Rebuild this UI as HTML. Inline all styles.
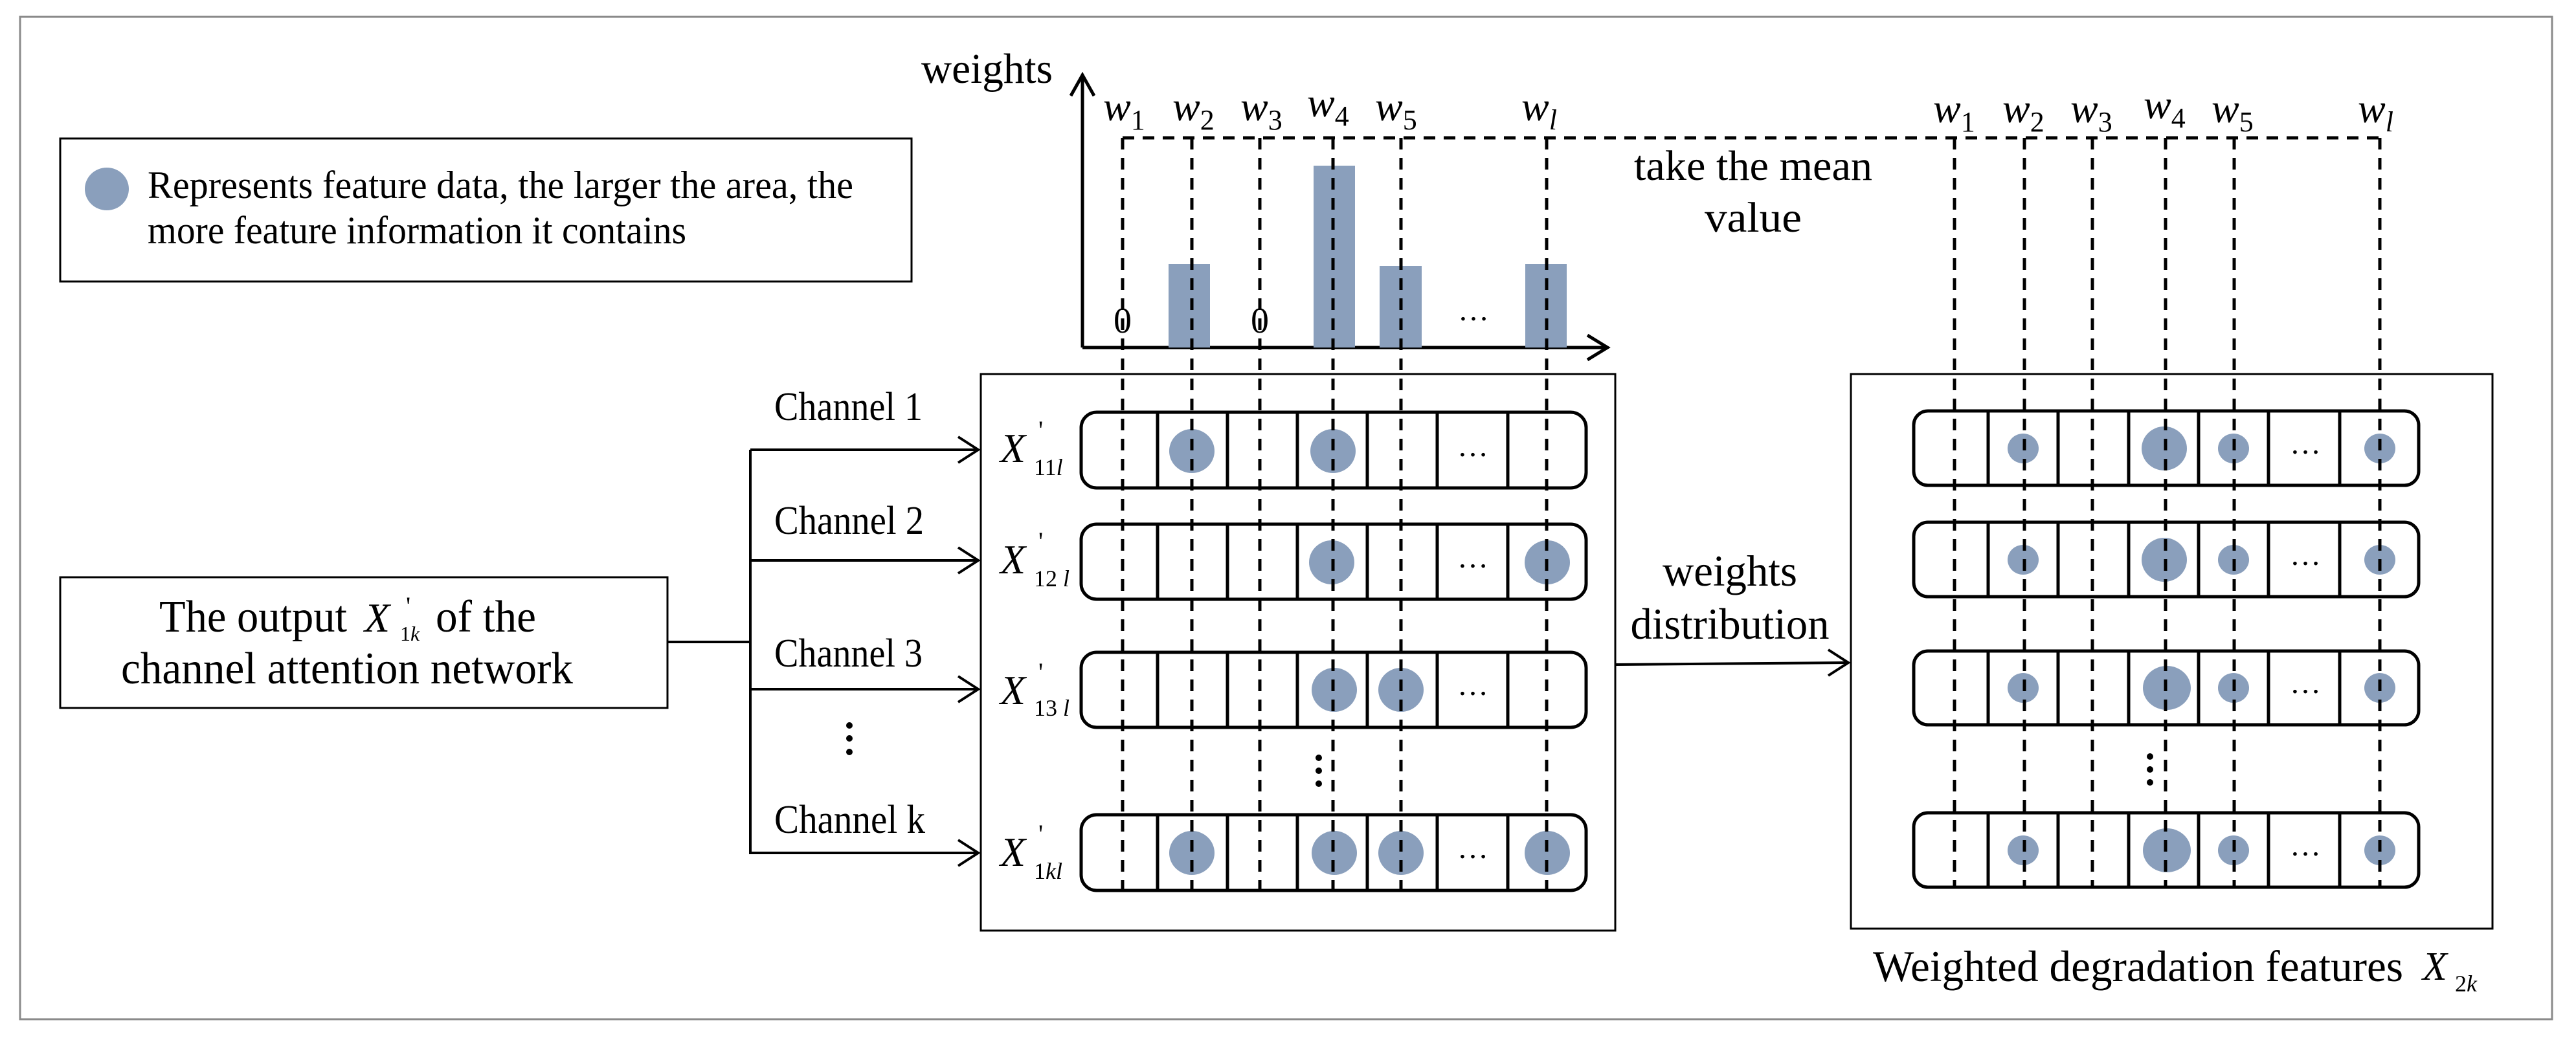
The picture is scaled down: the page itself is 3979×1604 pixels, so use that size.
<!DOCTYPE html>
<html><head><meta charset="utf-8"><style>
html,body{margin:0;padding:0;background:#fff}
svg{display:block}
svg text{font-family:"Liberation Serif","Times New Roman",serif;fill:#000}
.it{font-style:italic}
</style></head><body>
<svg width="3979" height="1604" viewBox="0 0 3979 1604" xmlns="http://www.w3.org/2000/svg" font-family="Liberation Serif, serif">
<rect x="31" y="26" width="3911" height="1549" fill="none" stroke="#8a8a8a" stroke-width="3"/>

<!-- legend -->
<rect x="93" y="214" width="1315" height="221" fill="none" stroke="#000" stroke-width="3"/>
<ellipse cx="165" cy="292" rx="34" ry="33" fill="#8a9fbc"/>
<text x="228" y="306" font-size="60" textLength="1090" lengthAdjust="spacingAndGlyphs">Represents feature data, the larger the area, the</text>
<text x="228" y="376" font-size="60" textLength="832" lengthAdjust="spacingAndGlyphs">more feature information it contains</text>

<!-- output box -->
<rect x="93" y="892" width="938" height="202" fill="none" stroke="#000" stroke-width="3"/>
<text x="246" y="976" font-size="70" textLength="290" lengthAdjust="spacingAndGlyphs">The output</text>
<text x="563" y="976" font-size="64" class="it">X</text>
<text x="627" y="950" font-size="40">'</text>
<text x="618" y="990" font-size="32">1<tspan class="it">k</tspan></text>
<text x="673" y="976" font-size="70" textLength="155" lengthAdjust="spacingAndGlyphs">of the</text>
<text x="187" y="1056" font-size="70" textLength="698" lengthAdjust="spacingAndGlyphs">channel attention network</text>
<line x1="1031" y1="992" x2="1159" y2="992" stroke="#000" stroke-width="4"/>

<!-- channel tree -->
<line x1="1159" y1="695" x2="1159" y2="1320" stroke="#000" stroke-width="4"/>
<g stroke="#000" stroke-width="4" fill="none">
<line x1="1159" y1="695" x2="1510" y2="695"/><polyline points="1480,675 1511,695 1480,715"/>
<line x1="1159" y1="866" x2="1510" y2="866"/><polyline points="1480,846 1511,866 1480,886"/>
<line x1="1159" y1="1065" x2="1510" y2="1065"/><polyline points="1480,1045 1511,1065 1480,1085"/>
<line x1="1159" y1="1318" x2="1510" y2="1318"/><polyline points="1480,1298 1511,1318 1480,1338"/>
</g>
<text x="1196" y="649" font-size="62" textLength="229" lengthAdjust="spacingAndGlyphs">Channel 1</text>
<text x="1196" y="825" font-size="62" textLength="231" lengthAdjust="spacingAndGlyphs">Channel 2</text>
<text x="1196" y="1030" font-size="62" textLength="229" lengthAdjust="spacingAndGlyphs">Channel 3</text>
<text x="1196" y="1287" font-size="62" textLength="233" lengthAdjust="spacingAndGlyphs">Channel k</text>
<g fill="#000"><circle cx="1312" cy="1121" r="5"/><circle cx="1312" cy="1141" r="5"/><circle cx="1312" cy="1162" r="5"/></g>

<!-- chart -->
<text x="1423" y="128" font-size="66" textLength="203" lengthAdjust="spacingAndGlyphs">weights</text>
<g stroke="#000" stroke-width="5" fill="none">
<line x1="1672" y1="537" x2="1672" y2="117"/><polyline points="1654,148 1672,116 1690,148"/>
<line x1="1672" y1="537" x2="2481" y2="537"/><polyline points="2452,518 2483,537 2452,556"/>
</g>
<g fill="#8a9fbc">
<rect x="1805" y="408" width="64" height="129"/>
<rect x="2029" y="256" width="64" height="281"/>
<rect x="2131" y="411" width="65" height="126"/>
<rect x="2356" y="408" width="64" height="129"/>
</g>
<text x="1734" y="514" font-size="56" text-anchor="middle">0</text>
<text x="1946" y="514" font-size="56" text-anchor="middle">0</text>
<text x="2276" y="495" font-size="48" text-anchor="middle">…</text>

<!-- w labels left -->
<g font-size="64">
<text x="1704" y="186" class="it">w<tspan font-size="44" font-style="normal" dy="14">1</tspan></text>
<text x="1811" y="186" class="it">w<tspan font-size="44" font-style="normal" dy="14">2</tspan></text>
<text x="1916" y="186" class="it">w<tspan font-size="44" font-style="normal" dy="14">3</tspan></text>
<text x="2019" y="180" class="it">w<tspan font-size="44" font-style="normal" dy="14">4</tspan></text>
<text x="2124" y="186" class="it">w<tspan font-size="44" font-style="normal" dy="14">5</tspan></text>
<text x="2350" y="186" class="it">w<tspan font-size="44" dy="14">l</tspan></text>
</g>
<!-- w labels right -->
<g font-size="64">
<text x="2986" y="189" class="it">w<tspan font-size="44" font-style="normal" dy="14">1</tspan></text>
<text x="3093" y="189" class="it">w<tspan font-size="44" font-style="normal" dy="14">2</tspan></text>
<text x="3198" y="189" class="it">w<tspan font-size="44" font-style="normal" dy="14">3</tspan></text>
<text x="3311" y="183" class="it">w<tspan font-size="44" font-style="normal" dy="14">4</tspan></text>
<text x="3416" y="189" class="it">w<tspan font-size="44" font-style="normal" dy="14">5</tspan></text>
<text x="3642" y="189" class="it">w<tspan font-size="44" dy="14">l</tspan></text>
</g>

<text x="2708" y="278" font-size="66" text-anchor="middle" textLength="368" lengthAdjust="spacingAndGlyphs">take the mean</text>
<text x="2708" y="358" font-size="66" text-anchor="middle" textLength="150" lengthAdjust="spacingAndGlyphs">value</text>

<!-- middle box -->
<rect x="1515" y="578" width="980" height="860" fill="none" stroke="#000" stroke-width="3"/>
<!-- right box -->
<rect x="2859" y="578" width="991" height="857" fill="none" stroke="#000" stroke-width="3"/>

<!-- left rows -->
<g stroke="#000" stroke-width="5" fill="none">
<rect x="1670" y="637" width="780" height="117" rx="24"/>
<rect x="1670" y="810" width="780" height="116" rx="24"/>
<rect x="1670" y="1008" width="780" height="116" rx="24"/>
<rect x="1670" y="1259" width="780" height="117" rx="24"/>
<path d="M1788 637V754M1896 637V754M2004 637V754M2112 637V754M2220 637V754M2329 637V754"/>
<path d="M1788 810V926M1896 810V926M2004 810V926M2112 810V926M2220 810V926M2329 810V926"/>
<path d="M1788 1008V1124M1896 1008V1124M2004 1008V1124M2112 1008V1124M2220 1008V1124M2329 1008V1124"/>
<path d="M1788 1259V1376M1896 1259V1376M2004 1259V1376M2112 1259V1376M2220 1259V1376M2329 1259V1376"/>
</g>
<g fill="#8a9fbc">
<ellipse cx="1841" cy="697" rx="35" ry="34"/><ellipse cx="2059" cy="697" rx="35" ry="34"/>
<ellipse cx="2057" cy="869" rx="35" ry="34"/><ellipse cx="2390" cy="869" rx="35" ry="34"/>
<ellipse cx="2061" cy="1066" rx="35" ry="34"/><ellipse cx="2164" cy="1066" rx="35" ry="34"/>
<ellipse cx="1841" cy="1318" rx="35" ry="34"/><ellipse cx="2061" cy="1318" rx="35" ry="34"/><ellipse cx="2164" cy="1318" rx="35" ry="34"/><ellipse cx="2390" cy="1318" rx="35" ry="34"/>
</g>
<g font-size="48" text-anchor="middle">
<text x="2275" y="705">…</text><text x="2275" y="877">…</text><text x="2275" y="1074">…</text><text x="2275" y="1326">…</text>
</g>
<g fill="#000"><circle cx="2037" cy="1171" r="5"/><circle cx="2037" cy="1191" r="5"/><circle cx="2037" cy="1211" r="5"/></g>

<!-- X labels -->
<g>
<text x="1545" y="714" font-size="64" class="it">X</text><text x="1604" y="678" font-size="40">'</text><text x="1597" y="734" font-size="36">11<tspan class="it">l</tspan></text>
<text x="1545" y="886" font-size="64" class="it">X</text><text x="1604" y="850" font-size="40">'</text><text x="1597" y="906" font-size="36">12 <tspan class="it">l</tspan></text>
<text x="1545" y="1088" font-size="64" class="it">X</text><text x="1604" y="1052" font-size="40">'</text><text x="1597" y="1106" font-size="36">13 <tspan class="it">l</tspan></text>
<text x="1545" y="1338" font-size="64" class="it">X</text><text x="1604" y="1302" font-size="40">'</text><text x="1597" y="1358" font-size="36">1<tspan class="it">kl</tspan></text>
</g>

<!-- right rows -->
<g stroke="#000" stroke-width="5" fill="none">
<rect x="2956" y="635" width="780" height="115" rx="22"/>
<rect x="2956" y="807" width="780" height="115" rx="22"/>
<rect x="2956" y="1006" width="780" height="114" rx="22"/>
<rect x="2956" y="1256" width="780" height="115" rx="22"/>
<path d="M3071 635V750M3179 635V750M3288 635V750M3396 635V750M3504 635V750M3614 635V750"/>
<path d="M3071 807V922M3179 807V922M3288 807V922M3396 807V922M3504 807V922M3614 807V922"/>
<path d="M3071 1006V1120M3179 1006V1120M3288 1006V1120M3396 1006V1120M3504 1006V1120M3614 1006V1120"/>
<path d="M3071 1256V1371M3179 1256V1371M3288 1256V1371M3396 1256V1371M3504 1256V1371M3614 1256V1371"/>
</g>
<g fill="#8a9fbc">
<ellipse cx="3125" cy="693" rx="24" ry="23"/><ellipse cx="3343" cy="693" rx="35" ry="34"/><ellipse cx="3450" cy="693" rx="24" ry="23"/><ellipse cx="3676" cy="693" rx="24" ry="23"/>
<ellipse cx="3125" cy="865" rx="24" ry="23"/><ellipse cx="3343" cy="865" rx="35" ry="34"/><ellipse cx="3450" cy="865" rx="24" ry="23"/><ellipse cx="3676" cy="865" rx="24" ry="23"/>
<ellipse cx="3125" cy="1063" rx="24" ry="23"/><ellipse cx="3347" cy="1063" rx="37" ry="34"/><ellipse cx="3450" cy="1063" rx="24" ry="23"/><ellipse cx="3676" cy="1063" rx="24" ry="23"/>
<ellipse cx="3125" cy="1314" rx="24" ry="23"/><ellipse cx="3347" cy="1314" rx="37" ry="34"/><ellipse cx="3450" cy="1314" rx="24" ry="23"/><ellipse cx="3676" cy="1314" rx="24" ry="23"/>
</g>
<g font-size="48" text-anchor="middle">
<text x="3561" y="701">…</text><text x="3561" y="873">…</text><text x="3561" y="1071">…</text><text x="3561" y="1322">…</text>
</g>
<g fill="#000"><circle cx="3321" cy="1169" r="5"/><circle cx="3321" cy="1189" r="5"/><circle cx="3321" cy="1209" r="5"/></g>

<!-- dashed lines -->
<g stroke="#000" stroke-width="5" fill="none" stroke-dasharray="18 13">
<line x1="1734" y1="213" x2="3676" y2="213"/>
<line x1="1734" y1="213" x2="1734" y2="1376"/>
<line x1="1841" y1="213" x2="1841" y2="1376"/>
<line x1="1946" y1="213" x2="1946" y2="1376"/>
<line x1="2059" y1="213" x2="2059" y2="1376"/>
<line x1="2164" y1="213" x2="2164" y2="1376"/>
<line x1="2389" y1="213" x2="2389" y2="1376"/>
<line x1="3019" y1="213" x2="3019" y2="1371"/>
<line x1="3127" y1="213" x2="3127" y2="1371"/>
<line x1="3232" y1="213" x2="3232" y2="1371"/>
<line x1="3345" y1="213" x2="3345" y2="1371"/>
<line x1="3451" y1="213" x2="3451" y2="1371"/>
<line x1="3676" y1="213" x2="3676" y2="1371"/>
</g>

<!-- weights distribution arrow -->
<text x="2672" y="905" font-size="68" text-anchor="middle" textLength="208" lengthAdjust="spacingAndGlyphs">weights</text>
<text x="2672" y="987" font-size="68" text-anchor="middle" textLength="307" lengthAdjust="spacingAndGlyphs">distribution</text>
<g stroke="#000" stroke-width="4" fill="none">
<line x1="2495" y1="1027" x2="2853" y2="1024"/><polyline points="2824,1004 2855,1024 2824,1044"/>
</g>

<text x="2893" y="1516" font-size="68" textLength="819" lengthAdjust="spacingAndGlyphs">Weighted degradation features</text>
<text x="3742" y="1514" font-size="62" class="it">X</text>
<text x="3792" y="1532" font-size="36">2<tspan class="it">k</tspan></text>
</svg>
</body></html>
